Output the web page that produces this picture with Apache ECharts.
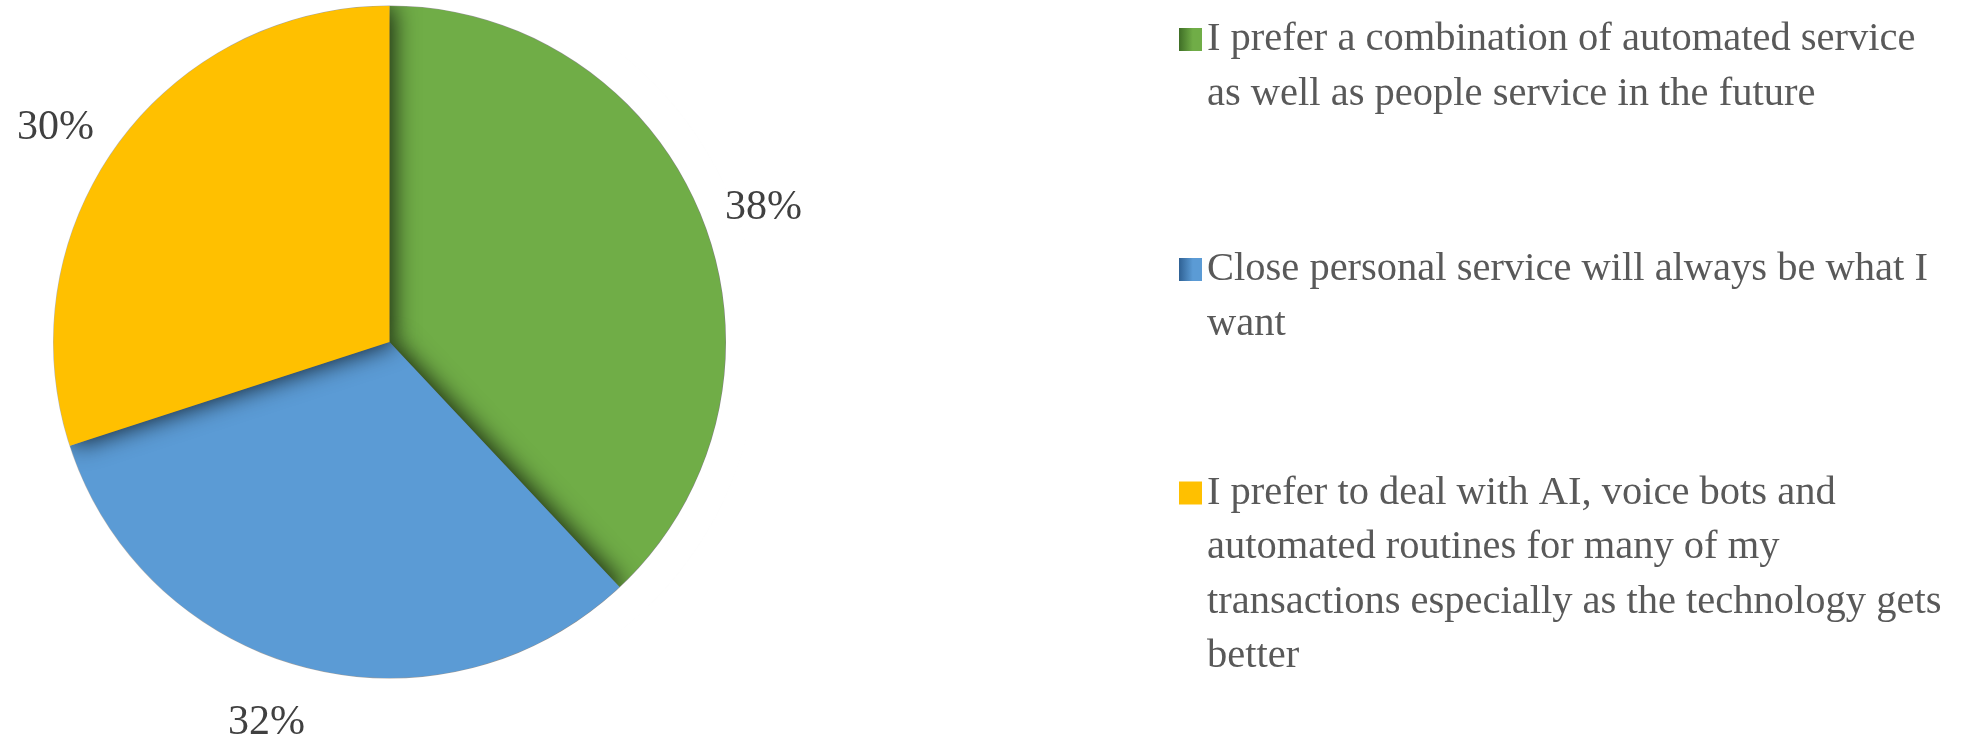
<!DOCTYPE html>
<html>
<head>
<meta charset="utf-8">
<script src="https://cdn.jsdelivr.net/npm/echarts@6/dist/echarts.min.js"></script>
<style>
  html, body { margin: 0; padding: 0; background: #ffffff; }
  #chart { width: 1970px; height: 737px; }
</style>
</head>
<body>
<div id="chart"></div>
<script>
// Survey answers and their shares (percent)
const categories = [
  'I prefer a combination of automated service as well as people service in the future',
  'Close personal service will always be what I want',
  'I prefer to deal with AI, voice bots and automated routines for many of my transactions especially as the technology gets better'
];
const shares = [38, 32, 30];
const colors = ['#70AD47', '#5B9BD5', '#FFC000'];
const iconShade = ['#3F6E26', '#2F6194', '#FFC000'];

// Legend text split into the lines it is set on
const legendLines = [
  ['I prefer a combination of automated service', 'as well as people service in the future'],
  ['Close personal service will always be what I', 'want'],
  ['I prefer to deal with AI, voice bots and', 'automated routines for many of my',
   'transactions especially as the technology gets', 'better']
];

const LINE_H = 54.5;
const legendIconCenters = [39.5, 269.5, 493];
// small per-label nudges away from the slice bisector
const labelNudge = [[4, 12], [-24, -5], [-12, 20]];

const CENTER = [389.5, 342];
const R = 336;

const chart = echarts.init(document.getElementById('chart'), null, { renderer: 'canvas' });

const legends = categories.map(function (name, i) {
  const n = legendLines[i].length;
  const blockH = (2 * n - 1) * LINE_H;
  return {
    data: [name],
    left: 1179,
    top: legendIconCenters[i] - blockH / 2,
    orient: 'vertical',
    padding: 0,
    itemWidth: 23,
    itemHeight: 23,
    icon: 'rect',
    selectedMode: false,
    itemStyle: {
      color: new echarts.graphic.LinearGradient(0, 0, 1, 0, [
        { offset: 0, color: iconShade[i] },
        { offset: 0.6, color: colors[i] },
        { offset: 1, color: colors[i] }
      ])
    },
    // blank leading lines keep the first text line level with the swatch
    formatter: function () {
      return new Array(n).join('\n') + legendLines[i].join('\n');
    },
    textStyle: {
      fontFamily: 'Liberation Serif',
      fontSize: 40.5,
      color: '#595959',
      lineHeight: LINE_H
    }
  };
});

const pieData = categories.map(function (name, i) {
  return { name: name, value: shares[i] };
});

const option = {
  backgroundColor: '#ffffff',
  animation: false,
  color: colors,
  legend: legends,
  series: [
    {
      type: 'pie',
      center: CENTER,
      radius: [0, R],
      startAngle: 90,
      clockwise: true,
      z: 2,
      itemStyle: {
        borderWidth: 0,
        shadowBlur: 24,
        shadowOffsetX: 4,
        shadowOffsetY: 0,
        shadowColor: 'rgba(0, 0, 0, 0.8)'
      },
      emphasis: { disabled: true },
      label: { show: false },
      labelLine: { show: false },
      data: pieData
    },
    {
      // white rim that trims the slice shadows at the outer edge
      type: 'pie',
      center: CENTER,
      radius: [R + 0.5, R + 34],
      silent: true,
      z: 3,
      label: { show: false },
      labelLine: { show: false },
      itemStyle: { color: '#ffffff' },
      emphasis: { disabled: true },
      data: [{ name: '', value: 1 }]
    },
    {
      // percentage labels, laid out on a transparent copy of the pie
      type: 'pie',
      center: CENTER,
      radius: [0, R],
      startAngle: 90,
      clockwise: true,
      avoidLabelOverlap: false,
      silent: true,
      z: 4,
      legendHoverLink: false,
      itemStyle: { color: 'rgba(0,0,0,0)', borderWidth: 0 },
      emphasis: { disabled: true },
      label: {
        show: true,
        position: 'outside',
        formatter: function (p) { return p.value + '%'; },
        fontFamily: 'Liberation Serif',
        fontSize: 42,
        color: '#404040'
      },
      labelLine: {
        show: true,
        length: 62,
        length2: 0,
        lineStyle: { color: 'rgba(0,0,0,0)', width: 0 }
      },
      labelLayout: function (p) {
        const pts = p.labelLinePoints;
        if (!pts) { return {}; }
        const nd = labelNudge[p.dataIndex];
        return {
          x: pts[1][0] + nd[0],
          y: pts[1][1] + nd[1],
          align: 'center',
          verticalAlign: 'middle'
        };
      },
      data: pieData
    }
  ]
};

chart.setOption(option);
</script>
</body>
</html>
